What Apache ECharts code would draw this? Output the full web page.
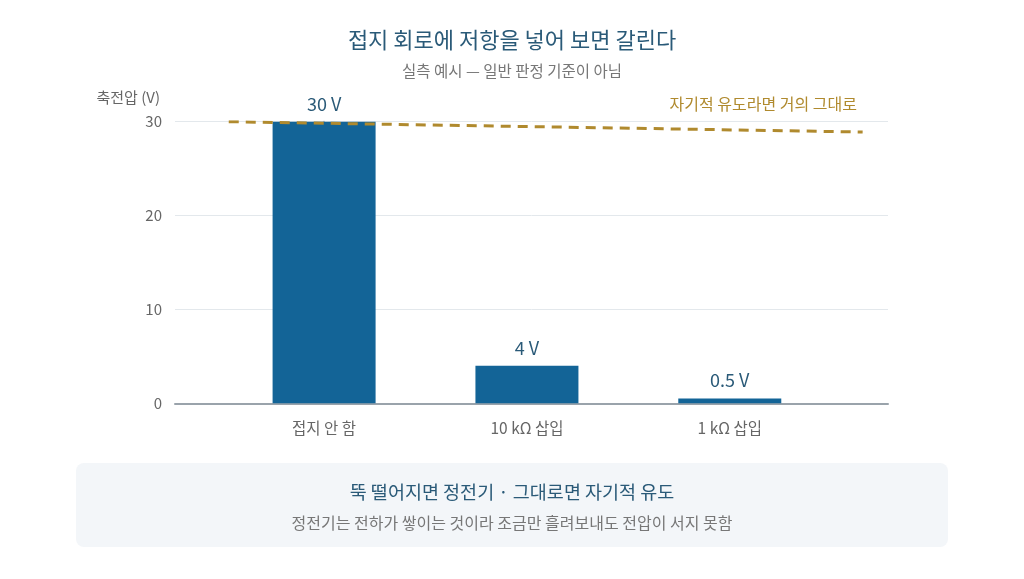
<!DOCTYPE html>
<html>
<head>
<meta charset="utf-8">
<script src="https://cdn.jsdelivr.net/npm/echarts@6/dist/echarts.min.js"></script>
<style>
  html, body { margin: 0; padding: 0; background: #fff; }
  #chart { width: 1024px; height: 579px; }
</style>
</head>
<body>
<div id="chart"></div>
<script>
// 카테고리와 측정값
var categories = ['접지 안 함', '10 kΩ 삽입', '1 kΩ 삽입'];
var voltages = [30, 4, 0.5];
var valueLabels = ['30 V', '4 V', '0.5 V'];
var yTicks = [0, 10, 20, 30];
// 자기적 유도 기준선 (x 위치, 전압)
var refLineX = [-0.47, 2.655];
var refLineY = [30, 28.9];
var refLineText = '자기적 유도라면 거의 그대로';

var FONT = '"Noto Sans CJK KR", "Noto Sans", sans-serif';

var barData = voltages.map(function (v, i) { return [i, v]; });
var refData = refLineX.map(function (x, i) { return [x, refLineY[i]]; });

var myChart = echarts.init(document.getElementById('chart'));

var option = {
  backgroundColor: '#ffffff',
  textStyle: { fontFamily: FONT },
  title: [
    {
      text: '접지 회로에 저항을 넣어 보면 갈린다',
      left: 'center',
      top: 24,
      textStyle: { fontFamily: FONT, fontSize: 22, fontWeight: 'normal', color: '#2a5a78' }
    },
    {
      text: '실측 예시 — 일반 판정 기준이 아님',
      left: 'center',
      top: 58,
      textStyle: { fontFamily: FONT, fontSize: 15.5, fontWeight: 'normal', color: '#777777' }
    }
  ],
  grid: { left: 175, right: 136, top: 121.7, bottom: 175.7 },
  xAxis: {
    type: 'value',
    min: -0.735,
    max: 2.78,
    splitLine: { show: false },
    axisLine: { show: true, onZero: false, lineStyle: { color: '#9aa3ab', width: 2 } },
    axisTick: { show: false },
    axisLabel: {
      customValues: [0, 1, 2],
      margin: 17,
      fontSize: 15.5,
      color: '#666666',
      fontFamily: FONT,
      formatter: function (v) { return categories[Math.round(v)] || ''; }
    }
  },
  yAxis: {
    type: 'value',
    min: 0,
    max: 30,
    interval: 10,
    axisLine: { show: true, lineStyle: { color: '#b5bcc2', width: 2 } },
    axisTick: { show: false },
    axisLabel: {
      fontSize: 15,
      color: '#666666',
      margin: 13,
      fontFamily: FONT,
      formatter: function (v) { return yTicks.indexOf(v) >= 0 ? String(v) : ''; }
    },
    splitLine: { show: true, lineStyle: { color: '#e3e8ec', width: 1 } }
  },
  series: [
    {
      type: 'bar',
      data: barData,
      barWidth: 103,
      itemStyle: { color: '#136497' },
      label: {
        show: true,
        position: 'top',
        distance: 9,
        fontSize: 18,
        color: '#2a5a78',
        fontFamily: FONT,
        formatter: function (p) { return valueLabels[p.dataIndex]; }
      },
      z: 2
    },
    {
      type: 'line',
      data: refData,
      symbol: 'none',
      lineStyle: { color: '#b08a2e', width: 3, type: [10, 7] },
      z: 3
    }
  ],
  graphic: [
    {
      type: 'text',
      x: 160,
      y: 97,
      style: {
        text: '축전압 (V)',
        fontFamily: FONT,
        fontSize: 15,
        fill: '#666666',
        align: 'right',
        verticalAlign: 'middle'
      }
    },
    {
      type: 'text',
      x: 857,
      y: 104,
      style: {
        text: refLineText,
        fontFamily: FONT,
        fontSize: 16,
        fill: '#b08a2e',
        align: 'right',
        verticalAlign: 'middle'
      }
    },
    {
      type: 'rect',
      shape: { x: 76, y: 463, width: 872, height: 84, r: 8 },
      style: { fill: '#f3f6f9' },
      z: 0
    },
    {
      type: 'text',
      x: 512,
      y: 492,
      style: {
        text: '뚝 떨어지면 정전기 · 그대로면 자기적 유도',
        fontFamily: FONT,
        fontSize: 18.5,
        fill: '#2a5a78',
        align: 'center',
        verticalAlign: 'middle'
      },
      z: 1
    },
    {
      type: 'text',
      x: 512,
      y: 523,
      style: {
        text: '정전기는 전하가 쌓이는 것이라 조금만 흘려보내도 전압이 서지 못함',
        fontFamily: FONT,
        fontSize: 16,
        fill: '#777777',
        align: 'center',
        verticalAlign: 'middle'
      },
      z: 1
    }
  ]
};

myChart.setOption(option);
</script>
</body>
</html>
